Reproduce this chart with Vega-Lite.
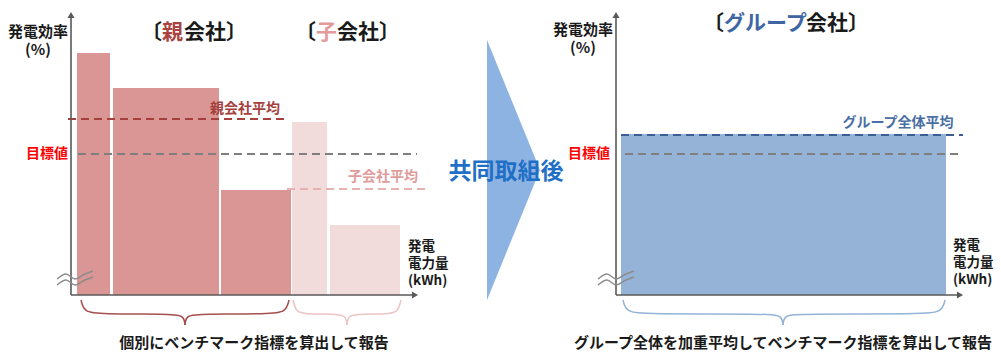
{
  "$schema": "https://vega.github.io/schema/vega-lite/v6.json",
  "width": 1001,
  "height": 354,
  "padding": 0,
  "autosize": {"type": "fit", "contains": "padding"},
  "config": {"view": {"stroke": null}, "text": {"font": "Noto Sans CJK JP", "fontWeight": "bold", "baseline": "middle"}},
  "encoding": {
    "x": {"field": "x", "type": "quantitative", "scale": {"domain": [0, 1001], "nice": false, "zero": false}, "axis": null},
    "y": {"field": "y", "type": "quantitative", "scale": {"domain": [-59, 295], "nice": false, "zero": false}, "axis": null},
    "color": {"field": "kind", "type": "nominal", "legend": null,
      "scale": {
        "domain": ["親会社","子会社","グループ会社","親会社平均","子会社平均","グループ全体平均","目標値","axis","arrow","brace_parent","brace_sub","brace_group","wave","black","target_label","title_parent","title_sub","title_group","arrow_text","label_parent","label_sub","label_group"],
        "range": ["#D99694","#F2DCDB","#95B3D7","#A5403D","#E6B1B0","#3B5F93","#7F7F7F","#595959","#8DB3E2","#A5504E","#EBC4C3","#95B3D7","#8C8C8C","#1A1A1A","#FF0000","#A94442","#E39A9A","#3E66A3","#1F6FC6","#A5403D","#E09C9B","#4A6FA5"]
      }}
  },
  "layer": [
    {
      "data": {"values": [
        {"x": 487, "y": 255, "y2": -5, "kind": "arrow"},
        {"x": 540, "y": 125, "y2": 125, "kind": "arrow"}
      ]},
      "mark": {"type": "area", "orient": "vertical", "opacity": 1},
      "encoding": {"y2": {"field": "y2"}}
    },
    {
      "data": {"values": [
        {"x": 77, "x2": 110, "y": 242, "kind": "親会社"},
        {"x": 113, "x2": 219, "y": 207, "kind": "親会社"},
        {"x": 221, "x2": 291, "y": 105, "kind": "親会社"},
        {"x": 292, "x2": 327, "y": 173, "kind": "子会社"},
        {"x": 330, "x2": 400, "y": 70, "kind": "子会社"},
        {"x": 621, "x2": 946, "y": 161, "kind": "グループ会社"}
      ]},
      "mark": {"type": "rect", "opacity": 1},
      "encoding": {"x2": {"field": "x2"}, "y2": {"datum": 0}}
    },
    {
      "data": {"values": [
        {"x": 68, "x2": 287, "y": 176, "kind": "親会社平均"},
        {"x": 78, "x2": 417, "y": 141, "kind": "目標値"},
        {"x": 287, "x2": 425, "y": 106, "kind": "子会社平均"},
        {"x": 621, "x2": 963, "y": 160, "kind": "グループ全体平均"},
        {"x": 625, "x2": 963, "y": 141, "kind": "目標値"}
      ]},
      "mark": {"type": "rule", "strokeDash": [8, 5], "strokeWidth": 1.8},
      "encoding": {"x2": {"field": "x2"}}
    },
    {
      "data": {"values": [
        {"x": 71, "x2": 71, "y": 0, "y2": 279, "kind": "axis"},
        {"x": 71, "x2": 413, "y": 0, "y2": 0, "kind": "axis"},
        {"x": 616, "x2": 616, "y": 0, "y2": 279, "kind": "axis"},
        {"x": 616, "x2": 957, "y": 0, "y2": 0, "kind": "axis"}
      ]},
      "mark": {"type": "rule", "strokeWidth": 1.6},
      "encoding": {"x2": {"field": "x2"}, "y2": {"field": "y2"}}
    },
    {
      "data": {"values": [
        {"x": 71, "y": 280, "dir": "up", "kind": "axis"},
        {"x": 415, "y": 0, "dir": "right", "kind": "axis"},
        {"x": 616, "y": 280, "dir": "up", "kind": "axis"},
        {"x": 960, "y": 0, "dir": "right", "kind": "axis"}
      ]},
      "mark": {"type": "point", "filled": true, "opacity": 1, "size": 50},
      "encoding": {"shape": {"field": "dir", "type": "nominal", "legend": null, "scale": {"domain": ["up", "right"], "range": ["triangle-up", "triangle-right"]}}}
    },
    {
      "data": {"values": [
        {"seg": "p1", "x": 81, "y": -5, "kind": "brace_parent"},
        {"seg": "p1", "x": 84, "y": -17, "kind": "brace_parent"},
        {"seg": "p1", "x": 100, "y": -19, "kind": "brace_parent"},
        {"seg": "p1", "x": 168, "y": -19, "kind": "brace_parent"},
        {"seg": "p1", "x": 184, "y": -20, "kind": "brace_parent"},
        {"seg": "p1", "x": 185, "y": -30, "kind": "brace_parent"},
        {"seg": "p2", "x": 185, "y": -30, "kind": "brace_parent"},
        {"seg": "p2", "x": 186, "y": -20, "kind": "brace_parent"},
        {"seg": "p2", "x": 202, "y": -19, "kind": "brace_parent"},
        {"seg": "p2", "x": 270, "y": -19, "kind": "brace_parent"},
        {"seg": "p2", "x": 286, "y": -17, "kind": "brace_parent"},
        {"seg": "p2", "x": 289, "y": -5, "kind": "brace_parent"},
        {"seg": "s1", "x": 293, "y": -5, "kind": "brace_sub"},
        {"seg": "s1", "x": 296, "y": -17, "kind": "brace_sub"},
        {"seg": "s1", "x": 305, "y": -19, "kind": "brace_sub"},
        {"seg": "s1", "x": 333, "y": -19, "kind": "brace_sub"},
        {"seg": "s1", "x": 346, "y": -20, "kind": "brace_sub"},
        {"seg": "s1", "x": 347, "y": -30, "kind": "brace_sub"},
        {"seg": "s2", "x": 347, "y": -30, "kind": "brace_sub"},
        {"seg": "s2", "x": 348, "y": -20, "kind": "brace_sub"},
        {"seg": "s2", "x": 361, "y": -19, "kind": "brace_sub"},
        {"seg": "s2", "x": 389, "y": -19, "kind": "brace_sub"},
        {"seg": "s2", "x": 398, "y": -17, "kind": "brace_sub"},
        {"seg": "s2", "x": 401, "y": -5, "kind": "brace_sub"},
        {"seg": "g1", "x": 623, "y": -5, "kind": "brace_group"},
        {"seg": "g1", "x": 626, "y": -17, "kind": "brace_group"},
        {"seg": "g1", "x": 645, "y": -19, "kind": "brace_group"},
        {"seg": "g1", "x": 765, "y": -19, "kind": "brace_group"},
        {"seg": "g1", "x": 782, "y": -20, "kind": "brace_group"},
        {"seg": "g1", "x": 783, "y": -30, "kind": "brace_group"},
        {"seg": "g2", "x": 783, "y": -30, "kind": "brace_group"},
        {"seg": "g2", "x": 784, "y": -20, "kind": "brace_group"},
        {"seg": "g2", "x": 801, "y": -19, "kind": "brace_group"},
        {"seg": "g2", "x": 923, "y": -19, "kind": "brace_group"},
        {"seg": "g2", "x": 942, "y": -17, "kind": "brace_group"},
        {"seg": "g2", "x": 945, "y": -5, "kind": "brace_group"}
      ]},
      "mark": {"type": "line", "interpolate": "basis", "strokeWidth": 1.5},
      "encoding": {"detail": {"field": "seg", "type": "nominal"}}
    },
    {
      "data": {"values": [
        {"seg": "la", "x": 57, "y": 16, "kind": "wave"},
        {"seg": "la", "x": 66, "y": 21, "kind": "wave"},
        {"seg": "la", "x": 75, "y": 16, "kind": "wave"},
        {"seg": "la", "x": 85, "y": 21, "kind": "wave"},
        {"seg": "la", "x": 93, "y": 24, "kind": "wave"},
        {"seg": "lb", "x": 57, "y": 10, "kind": "wave"},
        {"seg": "lb", "x": 66, "y": 15, "kind": "wave"},
        {"seg": "lb", "x": 75, "y": 10, "kind": "wave"},
        {"seg": "lb", "x": 85, "y": 15, "kind": "wave"},
        {"seg": "lb", "x": 93, "y": 18, "kind": "wave"},
        {"seg": "ra", "x": 598, "y": 16, "kind": "wave"},
        {"seg": "ra", "x": 607, "y": 21, "kind": "wave"},
        {"seg": "ra", "x": 616, "y": 16, "kind": "wave"},
        {"seg": "ra", "x": 626, "y": 21, "kind": "wave"},
        {"seg": "ra", "x": 634, "y": 24, "kind": "wave"},
        {"seg": "rb", "x": 598, "y": 10, "kind": "wave"},
        {"seg": "rb", "x": 607, "y": 15, "kind": "wave"},
        {"seg": "rb", "x": 616, "y": 10, "kind": "wave"},
        {"seg": "rb", "x": 626, "y": 15, "kind": "wave"},
        {"seg": "rb", "x": 634, "y": 18, "kind": "wave"}
      ]},
      "mark": {"type": "line", "interpolate": "monotone", "strokeWidth": 1.4},
      "encoding": {"detail": {"field": "seg", "type": "nominal"}}
    },
    {
      "data": {"values": [
        {"label": "発電効率\n(%)", "x": 38, "y": 263, "kind": "black"},
        {"label": "発電効率\n(%)", "x": 583, "y": 265, "kind": "black"},
        {"label": "個別にベンチマーク指標を算出して報告", "x": 254, "y": -48, "kind": "black"},
        {"label": "グループ全体を加重平均してベンチマーク指標を算出して報告", "x": 783, "y": -48, "kind": "black"}
      ]},
      "mark": {"type": "text", "fontSize": 15, "align": "center", "lineBreak": "\n", "lineHeight": 18},
      "encoding": {"text": {"field": "label"}}
    },
    {
      "data": {"values": [
        {"label": "発電\n電力量\n(kWh)", "x": 408, "y": 48, "kind": "black"},
        {"label": "発電\n電力量\n(kWh)", "x": 953, "y": 49, "kind": "black"}
      ]},
      "mark": {"type": "text", "fontSize": 13.5, "align": "left", "lineBreak": "\n", "lineHeight": 17},
      "encoding": {"text": {"field": "label"}}
    },
    {
      "data": {"values": [
        {"label": "親会社平均", "x": 245, "y": 186, "kind": "label_parent"},
        {"label": "子会社平均", "x": 383, "y": 118, "kind": "label_sub"},
        {"label": "グループ全体平均", "x": 898, "y": 172, "kind": "label_group"},
        {"label": "目標値", "x": 47, "y": 141, "kind": "target_label"},
        {"label": "目標値", "x": 589, "y": 141, "kind": "target_label"}
      ]},
      "mark": {"type": "text", "fontSize": 14, "align": "center"},
      "encoding": {"text": {"field": "label"}}
    },
    {
      "data": {"values": [
        {"label": "〔", "x": 141, "y": 262, "kind": "black"},
        {"label": "親", "x": 162, "y": 262, "kind": "title_parent"},
        {"label": "会社〕", "x": 184, "y": 262, "kind": "black"},
        {"label": "〔", "x": 295, "y": 262, "kind": "black"},
        {"label": "子", "x": 316, "y": 262, "kind": "title_sub"},
        {"label": "会社〕", "x": 337, "y": 262, "kind": "black"},
        {"label": "〔", "x": 703, "y": 271, "kind": "black"},
        {"label": "グループ", "x": 724, "y": 271, "kind": "title_group"},
        {"label": "会社〕", "x": 806, "y": 271, "kind": "black"}
      ]},
      "mark": {"type": "text", "fontSize": 21, "align": "left"},
      "encoding": {"text": {"field": "label"}}
    },
    {
      "data": {"values": [
        {"label": "共同取組後", "x": 506, "y": 123, "kind": "arrow_text"}
      ]},
      "mark": {"type": "text", "fontSize": 23, "align": "center"},
      "encoding": {"text": {"field": "label"}}
    }
  ]
}
